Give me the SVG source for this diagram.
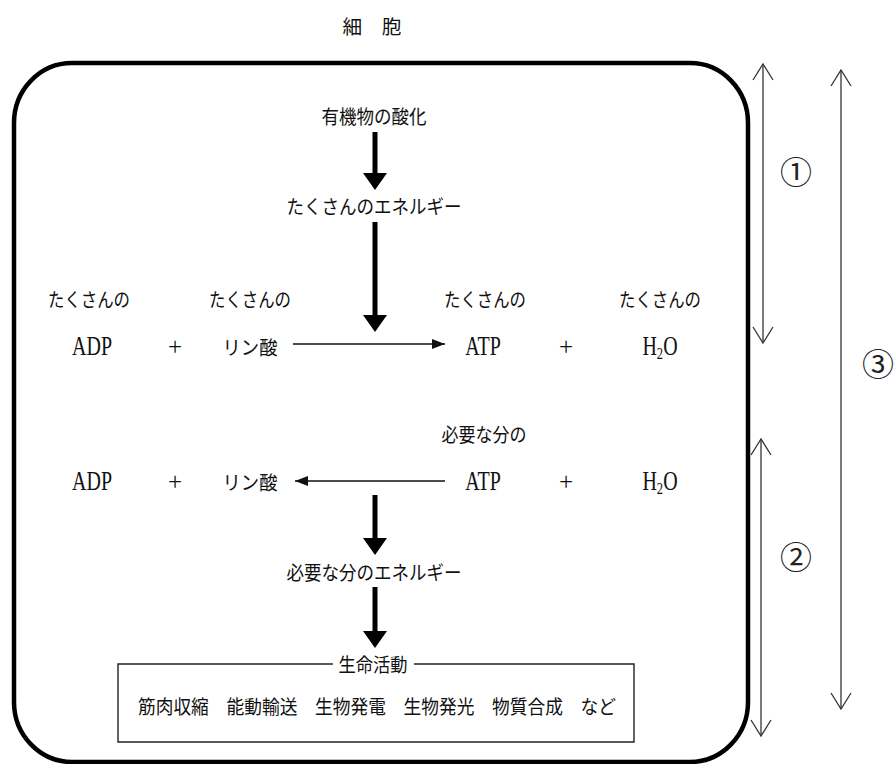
<svg xmlns="http://www.w3.org/2000/svg" width="894" height="764" viewBox="0 0 894 764">
<style>
.jp{font-family:"Noto Sans CJK JP","Noto Sans",sans-serif;font-size:19.5px;fill:#111;text-anchor:middle}
.la{font-family:"Liberation Serif","Noto Serif",serif;font-size:27px;fill:#111;text-anchor:middle}
.pl{font-family:"Liberation Serif",serif;font-size:25px;fill:#111;text-anchor:middle}
.num{font-family:"Noto Sans CJK JP","DejaVu Sans",sans-serif;font-size:32px;fill:#222;text-anchor:middle}
.thick{fill:#000}
.thin{stroke:#111;stroke-width:1.5;fill:none}
.dim{stroke:#333;stroke-width:1.3;fill:none}
</style>
<defs>
<marker id="tri" viewBox="-14 -6 15 12" refX="0" refY="0" markerWidth="15" markerHeight="12" markerUnits="userSpaceOnUse" orient="auto-start-reverse">
<path d="M-13 -5 L0 0 L-13 5 Z" fill="#111"/>
</marker>
<marker id="vee" viewBox="-18 -12 20 24" refX="0" refY="0" markerWidth="20" markerHeight="24" markerUnits="userSpaceOnUse" orient="auto-start-reverse">
<path d="M-16 -10 L0 0 L-16 10" fill="none" stroke="#333" stroke-width="1.3"/>
</marker>
</defs>
<rect width="894" height="764" fill="#fff"/>

<g id="title"><text class="jp" x="372" y="34" textLength="59" lengthAdjust="spacingAndGlyphs">細　胞</text></g>

<g id="cell"><rect x="14" y="63" width="734" height="699" rx="58" ry="60" fill="none" stroke="#000" stroke-width="4.5"/></g>

<g id="oxidation"><text class="jp" x="374" y="124" textLength="105" lengthAdjust="spacingAndGlyphs">有機物の酸化</text></g>
<g id="energy-many"><text class="jp" x="374" y="214" textLength="175" lengthAdjust="spacingAndGlyphs">たくさんのエネルギー</text></g>

<g id="row1">
<text class="jp" x="89" y="307" textLength="82" lengthAdjust="spacingAndGlyphs">たくさんの</text>
<text class="jp" x="250" y="307" textLength="82" lengthAdjust="spacingAndGlyphs">たくさんの</text>
<text class="jp" x="485" y="307" textLength="82" lengthAdjust="spacingAndGlyphs">たくさんの</text>
<text class="jp" x="660" y="307" textLength="82" lengthAdjust="spacingAndGlyphs">たくさんの</text>
<text class="la" transform="translate(92,355) scale(0.74,1)">ADP</text>
<text class="pl" x="175" y="355">+</text>
<text class="jp" x="250" y="355" textLength="55" lengthAdjust="spacingAndGlyphs">リン酸</text>
<text class="la" transform="translate(483,355) scale(0.74,1)">ATP</text>
<text class="pl" x="566" y="355">+</text>
<text class="la" transform="translate(660,355) scale(0.74,1)">H<tspan font-size="17" dy="4">2</tspan><tspan dy="-4">O</tspan></text>
</g>

<g id="need-label"><text class="jp" x="484" y="442" textLength="85" lengthAdjust="spacingAndGlyphs">必要な分の</text></g>

<g id="row2">
<text class="la" transform="translate(92,490) scale(0.74,1)">ADP</text>
<text class="pl" x="175" y="490">+</text>
<text class="jp" x="250" y="490" textLength="55" lengthAdjust="spacingAndGlyphs">リン酸</text>
<text class="la" transform="translate(483,490) scale(0.74,1)">ATP</text>
<text class="pl" x="566" y="490">+</text>
<text class="la" transform="translate(660,490) scale(0.74,1)">H<tspan font-size="17" dy="4">2</tspan><tspan dy="-4">O</tspan></text>
</g>

<g id="energy-need"><text class="jp" x="374" y="580" textLength="175" lengthAdjust="spacingAndGlyphs">必要な分のエネルギー</text></g>

<g id="life-activity">
<path d="M333 664 H118 V742 H634 V664 H414" fill="none" stroke="#222" stroke-width="1.4"/>
<text class="jp" x="373" y="672" textLength="69" lengthAdjust="spacingAndGlyphs">生命活動</text>
<text class="jp" x="377" y="714" textLength="478" lengthAdjust="spacingAndGlyphs">筋肉収縮　能動輸送　生物発電　生物発光　物質合成　など</text>
</g>

<g id="labels">
<text class="num" x="796" y="184">①</text>
<text class="num" x="796" y="569">②</text>
<text class="num" x="878" y="376">③</text>
</g>

<g id="connectors">
<path class="thick" d="M372.5 132 H377.5 V173 H387 L375 190 L363 173 H372.5 Z"/>
<path class="thick" d="M372.5 222 H377.5 V315 H387 L375 332 L363 315 H372.5 Z"/>
<path class="thick" d="M372.5 495 H377.5 V538 H387 L375 555 L363 538 H372.5 Z"/>
<path class="thick" d="M372.5 587 H377.5 V631 H387 L375 648 L363 631 H372.5 Z"/>
<line class="thin" x1="293" y1="344" x2="445" y2="344" marker-end="url(#tri)"/>
<line class="thin" x1="445" y1="481" x2="295" y2="481" marker-end="url(#tri)"/>
<line class="dim" x1="763" y1="64" x2="763" y2="343" marker-start="url(#vee)" marker-end="url(#vee)"/>
<line class="dim" x1="761" y1="439" x2="761" y2="736" marker-start="url(#vee)" marker-end="url(#vee)"/>
<line class="dim" x1="841" y1="70" x2="841" y2="709" marker-start="url(#vee)" marker-end="url(#vee)"/>
</g>
</svg>
